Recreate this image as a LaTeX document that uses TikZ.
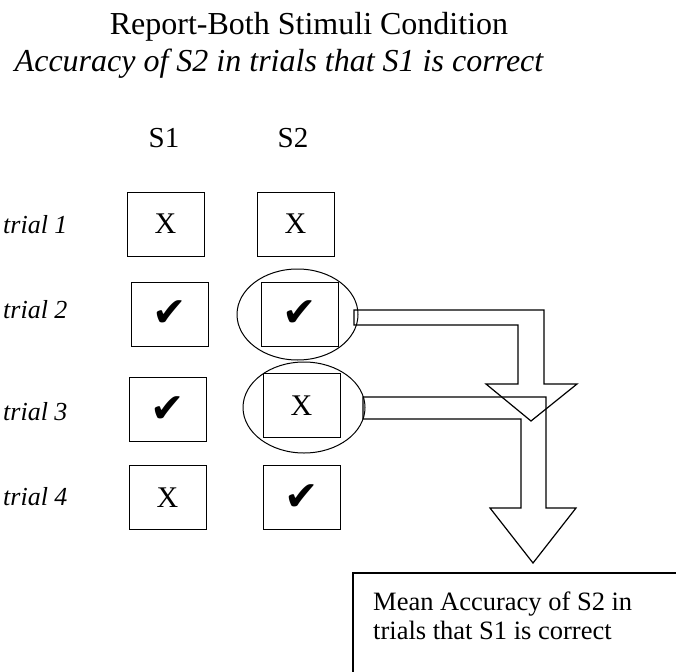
\documentclass[tikz,border=0pt]{standalone}
\usepackage{fontspec}
\setmainfont{Liberation Serif}
\newfontfamily\dejavu{DejaVu Sans}
\usetikzlibrary{shapes.geometric}
\begin{document}
\begin{tikzpicture}[x=1pt,y=-1pt,
  cell/.style={draw,line width=1pt,minimum width=77pt,minimum height=64pt,inner sep=0pt,font=\fontsize{30}{34}\selectfont},
  ring/.style={draw,ellipse,line width=1pt,inner sep=0pt},
  blockarrow/.style={draw,line width=1.2pt,line join=miter},
  trial/.style={anchor=base west,inner sep=0pt,font=\fontsize{26}{30}\selectfont\itshape},
  head/.style={anchor=base,inner sep=0pt,font=\fontsize{29}{33}\selectfont}]
\useasboundingbox (0,0) rectangle (676,671);
\fill[white] (0,0) rectangle (676,671);
\newcommand{\chk}{{\dejavu\fontsize{41}{44}\selectfont ✔}}
% titles
\node[anchor=base,inner sep=0pt,font=\fontsize{32}{36}\selectfont] (title) at (309,35) {Report-Both Stimuli Condition};
\node[anchor=base,inner sep=0pt,font=\fontsize{32}{36}\selectfont\itshape] (sub) at (279,72) {Accuracy of S2 in trials that S1 is correct};
% column heads
\node[head] (hs1) at (164,148) {S1};
\node[head] (hs2) at (293,148) {S2};
% trial labels
\node[trial] (t1) at (3,233) {trial 1};
\node[trial] (t2) at (3,318) {trial 2};
\node[trial] (t3) at (3,420) {trial 3};
\node[trial] (t4) at (3,505) {trial 4};
% cells
\node[cell] (a1) at (165.5,224) {X};
\node[cell] (b1) at (295.5,224) {X};
\node[cell] (a2) at (169.5,314) {\chk};
\node[cell] (b2) at (299.5,314) {\chk};
\node[cell] (a3) at (167.5,409.5) {\chk};
\node[cell] (b3) at (301.5,405.5) {X};
\node[cell] (a4) at (167.5,497.5) {X};
\node[cell] (b4) at (301.5,497.5) {\chk};
% ellipses
\node[ring,minimum width=121pt,minimum height=91pt] (e2) at (297.5,314.5) {};
\node[ring,minimum width=122pt,minimum height=91pt] (e3) at (304,407.5) {};
% block arrows
\draw[blockarrow] (354,310) -- (544,310) -- (544,384) -- (577,384) -- (531,421) -- (486,384) -- (518,384) -- (518,325) -- (354,325) -- cycle;
\draw[blockarrow] (363,397) -- (546,397) -- (546,508) -- (576,508) -- (533,563) -- (490,508) -- (521,508) -- (521,419) -- (363,419) -- cycle;
% result box
\draw[line width=1.3pt] (353,672) -- (353,573) -- (677,573);
\node[anchor=base west,inner sep=0pt,font=\fontsize{26.5}{29}\selectfont] (r1) at (373,610) {Mean Accuracy of S2 in};
\node[anchor=base west,inner sep=0pt,font=\fontsize{26.5}{29}\selectfont] (r2) at (373,639) {trials that S1 is correct};
\end{tikzpicture}
\end{document}
